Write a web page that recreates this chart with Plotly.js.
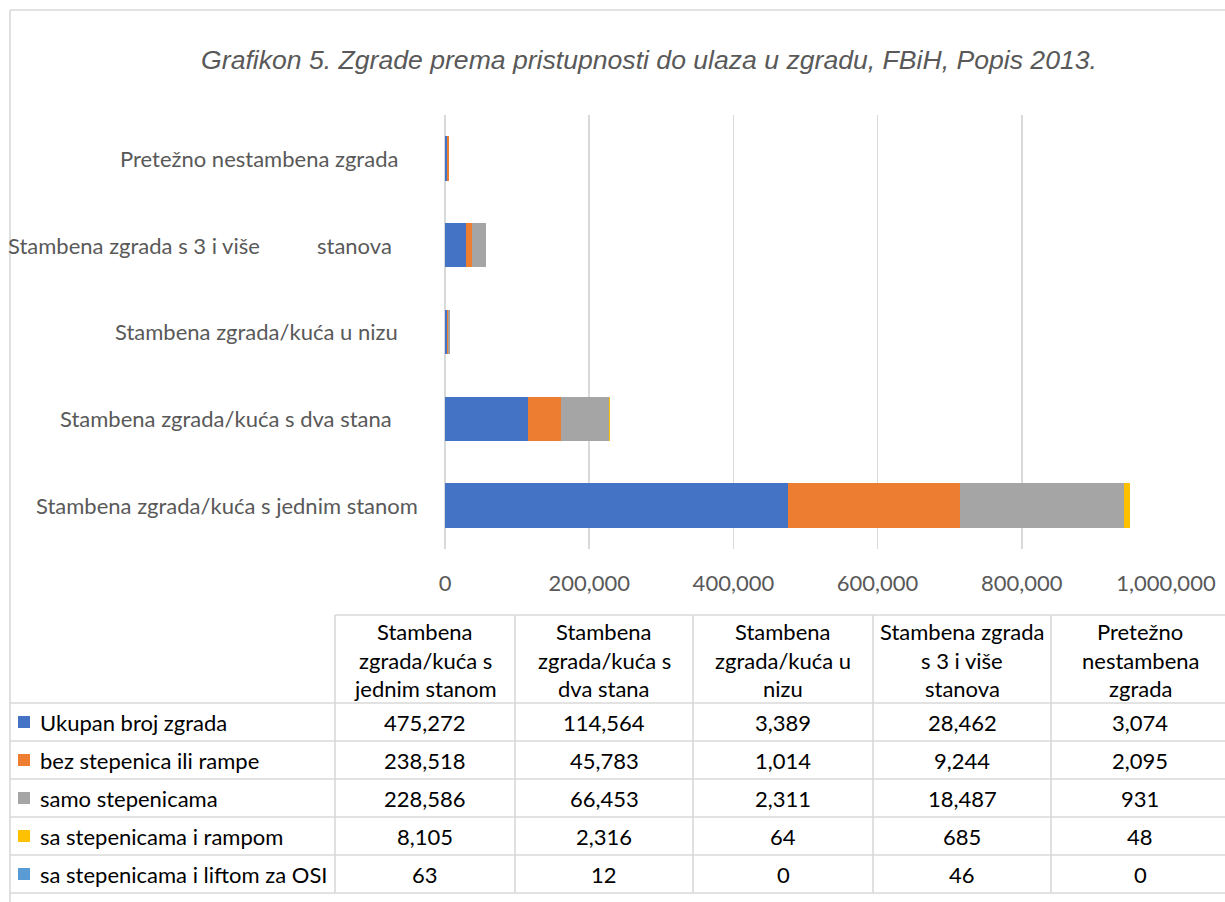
<!DOCTYPE html>
<html>
<head>
<meta charset="utf-8">
<script src="https://cdn.plot.ly/plotly-3.0.1.min.js"></script>
<style>html,body{margin:0;padding:0;background:#fff;}#chart{width:1225px;height:902px;}</style>
</head>
<body>
<div id="chart"></div>
<script>
// ---- data ----
const categories = [
  "Stambena zgrada/kuća s jednim stanom",
  "Stambena zgrada/kuća s dva stana",
  "Stambena zgrada/kuća u nizu",
  "Stambena zgrada s 3 i više stanova",
  "Pretežno nestambena zgrada"
];
const seriesNames = [
  "Ukupan broj zgrada",
  "bez stepenica ili rampe",
  "samo stepenicama",
  "sa stepenicama i rampom",
  "sa stepenicama i liftom za OSI"
];
const ukupan = [475272, 114564, 3389, 28462, 3074];
const bezStepenica = [238518, 45783, 1014, 9244, 2095];
const samoStepenicama = [228586, 66453, 2311, 18487, 931];
const saRampom = [8105, 2316, 64, 685, 48];
const saLiftom = [63, 12, 0, 46, 0];
const seriesValues = [ukupan, bezStepenica, samoStepenicama, saRampom, saLiftom];
const axisLabelParts = [
  ["Stambena zgrada/kuća s jednim stanom"],
  ["Stambena zgrada/kuća s dva stana"],
  ["Stambena zgrada/kuća u nizu"],
  ["Stambena zgrada s 3 i više", "stanova"],
  ["Pretežno nestambena zgrada"]
];
const headerLines = [
  ["Stambena", "zgrada/kuća s", "jednim stanom"],
  ["Stambena", "zgrada/kuća s", "dva stana"],
  ["Stambena", "zgrada/kuća u", "nizu"],
  ["Stambena zgrada", "s 3 i više", "stanova"],
  ["Pretežno", "nestambena", "zgrada"]
];
const titleText = "Grafikon 5. Zgrade prema pristupnosti do ulaza u zgradu, FBiH, Popis 2013.";

// ---- style ----
const colors = ["#4472C4", "#ED7D31", "#A5A5A5", "#FFC000", "#5B9BD5"];
const W = 1225, H = 902;
const px = x => x / W;
const py = y => 1 - y / H;
const grid = "#d9d9d9";
const FONT = "Lato, 'Open Sans', sans-serif";
const FS = 22;

const traces = seriesValues.map((vals, i) => ({
  type: "bar",
  orientation: "h",
  name: seriesNames[i],
  y: categories,
  x: vals,
  marker: {color: colors[i], line: {width: 0}},
  showlegend: false,
  hoverinfo: "x+name"
}));

const shapes = [];
const annotations = [];
const line = (x0, y0, x1, y1) => shapes.push({type: "line", xref: "paper", yref: "paper",
  x0: px(x0), y0: py(y0), x1: px(x1), y1: py(y1), line: {color: grid, width: 1.6}});

// chart border
line(10, 10, 1226, 10);
line(10, 10, 10, 903);

// category labels (right-aligned annotations)
const labelRightEdges = [[420], [394], [400], [262, 394], [400]];
axisLabelParts.forEach((parts, i) => {
  parts.forEach((txt, j) => {
    annotations.push({xref: "paper", yref: "y", x: px(labelRightEdges[i][j]), y: categories[i],
      text: txt, showarrow: false, xanchor: "right", yanchor: "middle",
      font: {family: FONT, size: FS, color: "#595959"}});
  });
});

// data table
const colEdges = [10, 335, 515, 693, 873, 1051, 1229];
const headerTop = 615, headerBottom = 703, rowH = 38;
const tableBottom = headerBottom + rowH * seriesNames.length;
line(colEdges[1], headerTop, 1226, headerTop);
for (let r = 0; r <= seriesNames.length; r++) {
  const y = headerBottom + r * rowH;
  line(10, y, 1226, y);
}
for (let c = 1; c < colEdges.length - 1; c++) {
  line(colEdges[c], headerTop, colEdges[c], tableBottom);
}
const headerLineY = [631, 660, 688];
headerLines.forEach((lines, c) => {
  const cx = (colEdges[c + 1] + colEdges[c + 2]) / 2;
  lines.forEach((t, k) => {
    annotations.push({xref: "paper", yref: "paper", x: px(cx), y: py(headerLineY[k]),
      text: t, showarrow: false, xanchor: "center", yanchor: "middle",
      font: {family: FONT, size: FS, color: "#000"}});
  });
});
seriesNames.forEach((name, r) => {
  const cy = headerBottom + r * rowH + rowH / 2;
  shapes.push({type: "rect", xref: "paper", yref: "paper",
    x0: px(18), x1: px(30), y0: py(cy - 6), y1: py(cy + 6),
    fillcolor: colors[r], line: {width: 0}});
  annotations.push({xref: "paper", yref: "paper", x: px(38), y: py(cy),
    text: name, showarrow: false, xanchor: "left", yanchor: "middle",
    font: {family: FONT, size: FS, color: "#000"}});
  seriesValues[r].forEach((v, c) => {
    const cx = (colEdges[c + 1] + colEdges[c + 2]) / 2;
    annotations.push({xref: "paper", yref: "paper", x: px(cx), y: py(cy),
      text: v.toLocaleString("en-US"), showarrow: false, xanchor: "center", yanchor: "middle",
      font: {family: FONT, size: FS, color: "#000"}});
  });
});

const layout = {
  width: W, height: H,
  margin: {l: 0, r: 0, t: 0, b: 0},
  paper_bgcolor: "#fff", plot_bgcolor: "#fff",
  barmode: "stack",
  bargap: 0.49,
  title: {text: titleText, x: px(649), xanchor: "center", y: py(60), yanchor: "middle",
    font: {family: "'Liberation Sans', Arial, sans-serif", size: 26.6, color: "#595959", style: "italic"}},
  xaxis: {
    domain: [px(445), px(1166)],
    range: [0, 1000000],
    dtick: 200000,
    tickformat: ",",
    showgrid: true, gridcolor: grid, gridwidth: 1.6,
    zeroline: true, zerolinecolor: grid, zerolinewidth: 1.6,
    showline: false,
    ticks: "",
    ticklabelstandoff: 19,
    tickfont: {family: FONT, size: FS, color: "#595959"},
    anchor: "y"
  },
  yaxis: {
    domain: [py(549), py(115)],
    type: "category",
    range: [-0.5, 4.5],
    showticklabels: false,
    showgrid: false, zeroline: false, showline: false, ticks: ""
  },
  shapes: shapes,
  annotations: annotations
};

Plotly.newPlot("chart", traces, layout, {displayModeBar: false, staticPlot: true});
</script>
</body>
</html>
